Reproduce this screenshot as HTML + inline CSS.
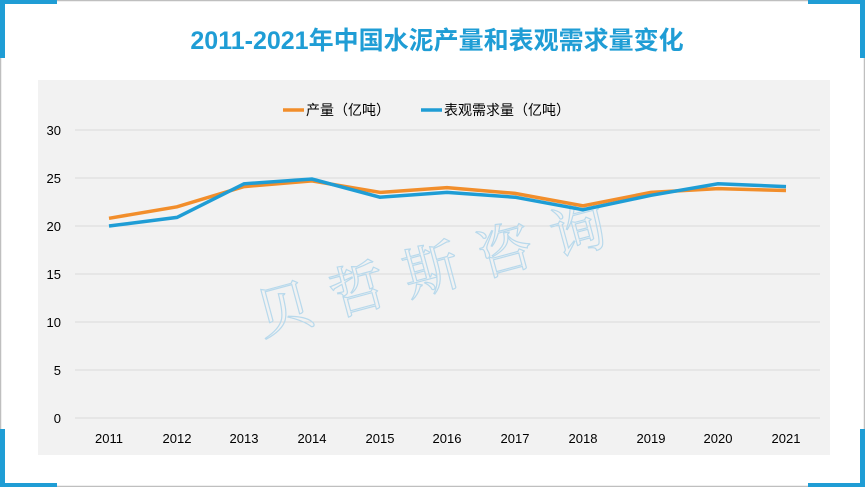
<!DOCTYPE html>
<html><head><meta charset="utf-8"><style>
body{margin:0;width:865px;height:487px;overflow:hidden;background:#fff;font-family:"Liberation Sans","Noto Sans CJK SC",sans-serif;}
</style></head><body>
<svg width="865" height="487" xmlns="http://www.w3.org/2000/svg" style="position:absolute;left:0;top:0">
<rect x="0.5" y="0.5" width="864" height="486" fill="#fff" stroke="#bfbfbf" stroke-width="1.5"/>
<g fill="#1f9dd5">
<rect x="0" y="0" width="57" height="4"/><rect x="0" y="0" width="5" height="58"/>
<rect x="808" y="0" width="57" height="4"/><rect x="860" y="0" width="5" height="58"/>
<rect x="0" y="483" width="57" height="4"/><rect x="0" y="429" width="5" height="58"/>
<rect x="808" y="483" width="57" height="4"/><rect x="860" y="429" width="5" height="58"/>
</g>
<text x="437" y="49" text-anchor="middle" font-size="25" font-weight="bold" fill="#1f9dd5" font-family="Liberation Sans,Noto Sans CJK SC,sans-serif">2011-2021年中国水泥产量和表观需求量变化</text>
<rect x="38" y="80" width="792" height="375" fill="#f2f2f2"/>
<g stroke="#d9d9d9" stroke-width="1">
<line x1="75" x2="820" y1="130" y2="130"/><line x1="75" x2="820" y1="178" y2="178"/>
<line x1="75" x2="820" y1="226" y2="226"/><line x1="75" x2="820" y1="274" y2="274"/>
<line x1="75" x2="820" y1="322" y2="322"/><line x1="75" x2="820" y1="370" y2="370"/>
<line x1="75" x2="820" y1="418" y2="418"/>
</g>
<g font-size="13" fill="#000" text-anchor="end">
<text x="61" y="135">30</text><text x="61" y="183">25</text><text x="61" y="231">20</text>
<text x="61" y="279">15</text><text x="61" y="327">10</text><text x="61" y="375">5</text><text x="61" y="423">0</text>
</g>
<g font-size="13" fill="#000" text-anchor="middle">
<text x="109" y="443">2011</text><text x="177" y="443">2012</text><text x="244" y="443">2013</text>
<text x="312" y="443">2014</text><text x="380" y="443">2015</text><text x="447" y="443">2016</text>
<text x="515" y="443">2017</text><text x="583" y="443">2018</text><text x="651" y="443">2019</text>
<text x="718" y="443">2020</text><text x="786" y="443">2021</text>
</g>
<text x="440" y="282" font-size="56" fill="none" stroke="#b8d9ec" stroke-width="1.2" font-family="Noto Serif CJK SC,serif" letter-spacing="20" transform="rotate(-15 460 262)" text-anchor="middle">贝哲斯咨询</text>
<polyline fill="none" stroke="#f28e2b" stroke-width="3.5" points="109,218.3 177,206.8 244,186.6 312,180.9 380,192.4 447,187.6 515,193.4 583,205.8 651,192.4 718,188.6 786,190.5"/>
<polyline fill="none" stroke="#1f9dd5" stroke-width="3.5" points="109,226 177,217.4 244,183.8 312,179 380,197.2 447,192.4 515,197.2 583,209.7 651,195.3 718,183.8 786,186.6"/>
<line x1="283" x2="304" y1="110" y2="110" stroke="#f28e2b" stroke-width="3.5"/>
<text x="306" y="115" font-size="14" fill="#000">产量（亿吨）</text>
<line x1="421" x2="442" y1="110" y2="110" stroke="#1f9dd5" stroke-width="3.5"/>
<text x="444" y="115" font-size="14" fill="#000">表观需求量（亿吨）</text>
</svg>
</body></html>
